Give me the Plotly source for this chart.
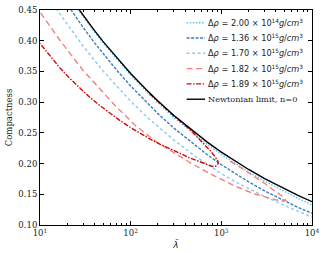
import plotly.graph_objects as go

# ---------------- data ----------------
lam_newton = [25, 30, 40, 50, 70, 100, 150, 200, 300, 500, 700, 1000, 1500, 2000, 3000, 5000, 7000, 10000]
c_newton = [0.4573, 0.4409, 0.4163, 0.3981, 0.3722, 0.3466, 0.3196, 0.3017, 0.2782, 0.2512, 0.2349,
            0.2187, 0.2017, 0.1904, 0.1755, 0.1585, 0.1482, 0.1380]

lam_a = [25, 30, 40, 50, 70, 100, 150, 200, 300, 500, 700, 1000, 1500, 2000, 3000, 5000, 7000, 10000]
c_a = [0.4553, 0.4389, 0.4141, 0.3958, 0.3698, 0.3440, 0.3168, 0.2987, 0.2750, 0.2478, 0.2313,
       0.2149, 0.1977, 0.1863, 0.1712, 0.1540, 0.1435, 0.1325]

lam_b = [18, 20, 25, 30, 40, 50, 70, 100, 150, 200, 300, 500, 700, 1000, 1500, 2000, 3000, 5000, 7000, 10000]
c_b = [0.4689, 0.4587, 0.4378, 0.4214, 0.3965, 0.3782, 0.3522, 0.3264, 0.2993, 0.2813, 0.2577, 0.2307,
       0.2144, 0.1982, 0.1814, 0.1702, 0.1555, 0.1388, 0.1287, 0.1188]

lam_c = [15, 20, 30, 50, 70, 100, 150, 200, 300, 500, 700, 1000, 1500, 2000, 3000, 5000, 7000, 10000]
c_c = [0.4525, 0.4262, 0.3909, 0.3501, 0.3257, 0.3016, 0.2761, 0.2597, 0.2382, 0.2132, 0.1984,
       0.1837, 0.1687, 0.1594, 0.1465, 0.1315, 0.1222, 0.1130]

lam_d = [1250, 1440, 1810, 2333, 3008, 3879, 4500, 4874, 5129, 4633, 3879, 2333, 1404, 744, 448, 291,
         194, 111, 63.4, 29.6, 16.5, 10]
c_d = [0.2035, 0.1985, 0.1895, 0.1781, 0.1676, 0.1554, 0.1495, 0.1455, 0.1399, 0.1386, 0.1415, 0.1505,
       0.1635, 0.1838, 0.2018, 0.2188, 0.2351, 0.2628, 0.2986, 0.3523, 0.4012, 0.4467]

lam_e = [162, 209, 291, 448, 577, 690, 760, 824, 880, 911, 924, 866, 803, 690, 577, 448, 347, 270,
         209, 162, 126, 97.6, 75.7, 58.7, 45.5, 35.3, 27.4, 21.3, 16.5, 12.8, 10]
c_e = [0.3138, 0.2983, 0.2790, 0.2558, 0.2392, 0.2270, 0.2205, 0.2140, 0.2085, 0.2050, 0.2001, 0.1957,
       0.1952, 0.1985, 0.2026, 0.2091, 0.2170, 0.2241, 0.2317, 0.2402, 0.2494, 0.2595, 0.2704, 0.2822,
       0.2947, 0.3081, 0.3227, 0.3387, 0.3562, 0.3756, 0.3955]

labels = [
    "Δ<i>ρ</i> = 2.00 × 10<sup>14</sup><i>g</i>/<i>cm</i><sup>3</sup>",
    "Δ<i>ρ</i> = 1.36 × 10<sup>15</sup><i>g</i>/<i>cm</i><sup>3</sup>",
    "Δ<i>ρ</i> = 1.70 × 10<sup>15</sup><i>g</i>/<i>cm</i><sup>3</sup>",
    "Δ<i>ρ</i> = 1.82 × 10<sup>15</sup><i>g</i>/<i>cm</i><sup>3</sup>",
    "Δ<i>ρ</i> = 1.89 × 10<sup>15</sup><i>g</i>/<i>cm</i><sup>3</sup>",
    "Newtonian limit, n=0",
]
label_fonts = ["DejaVu Sans"] * 5 + ["DejaVu Serif"]

x_tickvals = [10, 100, 1000, 10000]
x_ticktext = ["10<sup>1</sup>", "10<sup>2</sup>", "10<sup>3</sup>", "10<sup>4</sup>"]
x_minor = [m * 10 ** k for k in range(1, 4) for m in range(2, 10)]

# ---------------- figure ----------------
series = [
    (lam_a, c_a, "#5cc3f5", "1.5px,1.6px"),
    (lam_b, c_b, "#3a7dc0", "3px,1.5px"),
    (lam_c, c_c, "#8ccbec", "3px,2.5px"),
    (lam_d, c_d, "#f58080", "6px,3.5px"),
    (lam_e, c_e, "#cc0a0a", "5px,1.5px,1.5px,1.5px"),
    (lam_newton, c_newton, "#000000", "solid"),
]

fig = go.Figure()
for (lx, cy, col, dash), name in zip(series, labels):
    fig.add_trace(go.Scatter(
        x=lx, y=cy, mode="lines", name=name, showlegend=False,
        line=dict(color=col, width=1.4, dash=dash),
    ))

# legend drawn in the upper-right corner of the axes (paper coordinates)
leg_top, leg_step = 0.941, 0.0712
for i, ((lx, cy, col, dash), name, fam) in enumerate(zip(series, labels, label_fonts)):
    yy = leg_top - i * leg_step
    fig.add_shape(type="line", xref="paper", yref="paper",
                  x0=0.539, x1=0.607, y0=yy, y1=yy,
                  line=dict(color=col, width=1.4, dash=dash))
    fig.add_annotation(xref="paper", yref="paper", x=0.612, y=yy,
                       xanchor="left", yanchor="middle", showarrow=False,
                       text=name, font=dict(family=fam, size=8.2, color="#222"))

axis_common = dict(
    showline=True, linecolor="black", linewidth=1, mirror="allticks",
    ticks="inside", ticklen=4, tickcolor="black", tickwidth=1,
    showgrid=False, zeroline=False, automargin=False,
    tickfont=dict(family="DejaVu Serif", size=8.5, color="#222"),
)

fig.update_xaxes(
    type="log", range=[1, 4], tickvals=x_tickvals, ticktext=x_ticktext,
    minor=dict(ticks="inside", ticklen=2, tickcolor="black", tickvals=x_minor),
    title=dict(text="<i>λ̄</i>", font=dict(family="DejaVu Sans", size=9, color="#222"), standoff=4),
    **axis_common,
)
fig.update_yaxes(
    range=[0.10, 0.45], dtick=0.05, tickformat=".2f",
    title=dict(text="Compactness", font=dict(family="DejaVu Serif", size=8.5, color="#222"), standoff=4),
    **axis_common,
)

fig.update_layout(
    width=327, height=256,
    margin=dict(l=40, r=15, t=10, b=31),
    paper_bgcolor="white", plot_bgcolor="white",
    showlegend=False,
)

# remove the default 8px page margin so the 327x256 figure fills the window
fig.write_html("out.html", config={"displayModeBar": False},
               post_script="document.body.style.margin='0';")
